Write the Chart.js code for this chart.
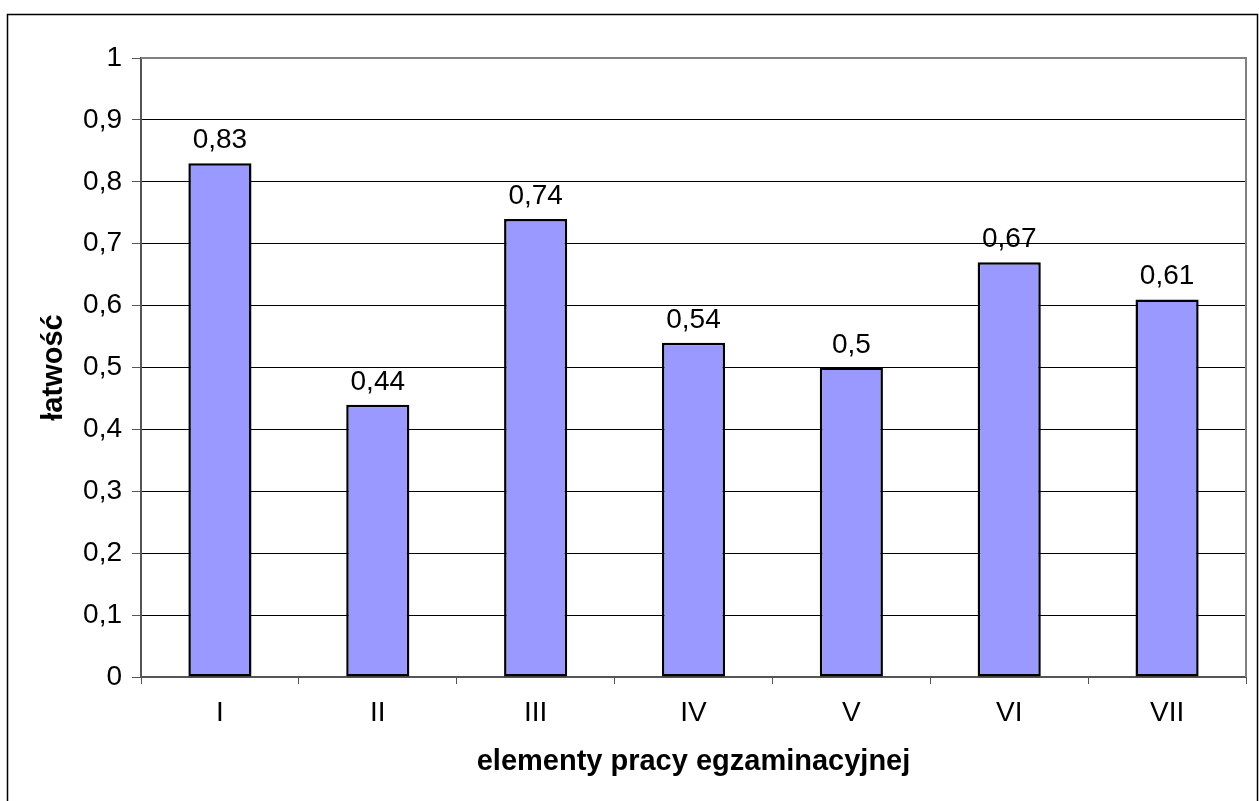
<!DOCTYPE html>
<html>
<head>
<meta charset="utf-8">
<script src="https://cdn.jsdelivr.net/npm/chart.js@4"></script>
<style>
  html, body { margin: 0; padding: 0; background: #fff; }
  #wrap { width: 1259px; height: 801px; position: relative; }
</style>
</head>
<body>
<div id="wrap"><canvas id="chart-latwosc"></canvas></div>
<script>
var categories = ['I', 'II', 'III', 'IV', 'V', 'VI', 'VII'];
var values = [0.83, 0.44, 0.74, 0.54, 0.5, 0.67, 0.61];
var yTicks = [0, 0.1, 0.2, 0.3, 0.4, 0.5, 0.6, 0.7, 0.8, 0.9, 1];

var fontFamily = "'Liberation Sans', Arial, sans-serif";

function fmt(v) {
    return String(Math.round(v * 100) / 100).replace('.', ',');
}

// outer frame + top/right plot border
var framePlugin = {
    id: 'frame',
    beforeDraw: function (chart) {
        var ctx = chart.ctx;
        ctx.save();
        ctx.fillStyle = '#fff';
        ctx.fillRect(0, 0, chart.width, chart.height);
        ctx.strokeStyle = '#000';
        ctx.lineWidth = 1.5;
        ctx.strokeRect(7.5, 14.5, 1250, 800);
        ctx.restore();
    },
    afterDraw: function (chart) {
        var a = chart.chartArea, ctx = chart.ctx;
        ctx.save();
        ctx.strokeStyle = '#808080';
        ctx.lineWidth = 2;
        ctx.beginPath();
        ctx.moveTo(a.left, a.top);
        ctx.lineTo(a.right, a.top);
        ctx.lineTo(a.right, a.bottom);
        ctx.stroke();
        ctx.restore();
    }
};

// value labels above bars
var labelPlugin = {
    id: 'valueLabels',
    afterDatasetsDraw: function (chart) {
        var ctx = chart.ctx;
        var meta = chart.getDatasetMeta(0);
        ctx.save();
        ctx.font = '28px ' + fontFamily;
        ctx.fillStyle = '#000';
        ctx.textAlign = 'center';
        ctx.textBaseline = 'alphabetic';
        meta.data.forEach(function (bar, i) {
            ctx.fillText(fmt(values[i]), bar.x, bar.y - 15);
        });
        ctx.restore();
    }
};

var canvas = document.getElementById('chart-latwosc');

if (canvas) var chart = new Chart(canvas.getContext('2d'), {
    type: 'bar',
    data: {
        labels: categories,
        datasets: [{
            label: 'łatwość',
            data: values,
            backgroundColor: '#9999FF',
            borderColor: '#000',
            borderWidth: 2.5,
            borderSkipped: false,
            barPercentage: 0.8,
            categoryPercentage: 0.5
        }]
    },
    options: {
        responsive: true,
        maintainAspectRatio: false,
        animation: false,
        layout: {
            padding: { top: 58, right: 13, left: 20, bottom: 0 }
        },
        plugins: {
            legend: { display: false },
            title: { display: false },
            tooltip: { enabled: false }
        },
        scales: {
            x: {
                afterFit: function (scale) { scale.height = 124; },
                grid: {
                    offset: true,
                    drawOnChartArea: false,
                    drawTicks: true,
                    tickLength: 7,
                    color: '#555'
                },
                border: { color: '#555', width: 2 },
                ticks: {
                    padding: 12,
                    color: '#000',
                    font: { family: fontFamily, size: 28 }
                },
                title: {
                    display: true,
                    text: 'elementy pracy egzaminacyjnej',
                    color: '#000',
                    font: { family: fontFamily, size: 29, weight: 'bold' },
                    padding: { top: 0, bottom: 22 }
                }
            },
            y: {
                min: 0,
                max: 1,
                afterFit: function (scale) { scale.width = 121; },
                afterBuildTicks: function (scale) {
                    scale.ticks = yTicks.map(function (v) { return { value: v }; });
                },
                grid: {
                    color: function (c) { return c.tick && c.tick.value === 1 ? '#808080' : '#000'; },
                    lineWidth: 1,
                    drawTicks: true,
                    tickLength: 9,
                    tickColor: '#555'
                },
                border: { color: '#555', width: 2 },
                ticks: {
                    padding: 10,
                    color: '#000',
                    font: { family: fontFamily, size: 28 },
                    callback: function (v) { return fmt(v); }
                },
                title: {
                    display: true,
                    text: 'łatwość',
                    color: '#000',
                    font: { family: fontFamily, size: 29, weight: 'bold' },
                    padding: { top: 17, bottom: 0 }
                }
            }
        }
    },
    plugins: [framePlugin, labelPlugin]
});
</script>
</body>
</html>
